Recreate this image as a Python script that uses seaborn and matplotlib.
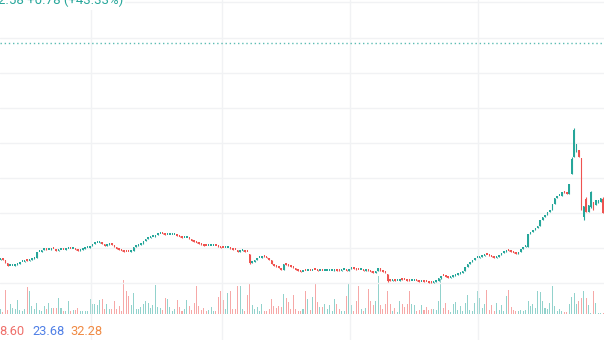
import matplotlib
matplotlib.use("Agg")
import matplotlib.pyplot as plt
import numpy as np
import pandas as pd
import seaborn as sns

# ---- daily bars -------------------------------------------------------
closes = [
    1.42, 1.41, 1.35, 1.29, 1.29, 1.29, 1.31, 1.33, 1.37, 1.37,
    1.39, 1.39, 1.41, 1.43, 1.45, 1.56, 1.57, 1.60, 1.62, 1.61,
    1.61, 1.63, 1.62, 1.59, 1.60, 1.61, 1.60, 1.62, 1.63, 1.62,
    1.63, 1.60, 1.58, 1.61, 1.63, 1.64, 1.65, 1.69, 1.73, 1.75,
    1.75, 1.77, 1.73, 1.69, 1.71, 1.74, 1.71, 1.67, 1.63, 1.61,
    1.58, 1.57, 1.56, 1.56, 1.59, 1.66, 1.69, 1.70, 1.73, 1.79,
    1.82, 1.85, 1.87, 1.87, 1.91, 1.92, 1.93, 1.93, 1.91, 1.91,
    1.91, 1.91, 1.91, 1.89, 1.86, 1.85, 1.85, 1.85, 1.83, 1.79,
    1.76, 1.74, 1.73, 1.71, 1.69, 1.68, 1.68, 1.69, 1.69, 1.68,
    1.67, 1.65, 1.64, 1.64, 1.64, 1.63, 1.61, 1.60, 1.57, 1.59,
    1.60, 1.57, 1.56, 1.34, 1.37, 1.41, 1.44, 1.45, 1.48, 1.47,
    1.45, 1.41, 1.32, 1.29, 1.27, 1.24, 1.21, 1.32, 1.31, 1.29,
    1.27, 1.24, 1.21, 1.19, 1.17, 1.17, 1.18, 1.19, 1.18, 1.19,
    1.20, 1.19, 1.19, 1.18, 1.19, 1.19, 1.19, 1.19, 1.20, 1.19,
    1.19, 1.20, 1.21, 1.18, 1.23, 1.25, 1.23, 1.21, 1.20, 1.21,
    1.19, 1.20, 1.19, 1.17, 1.15, 1.19, 1.24, 1.19, 1.16, 1.14,
    0.99, 0.99, 1.00, 0.99, 0.99, 1.03, 1.01, 1.00, 0.99, 0.99,
    0.99, 0.99, 0.99, 0.97, 0.97, 0.97, 0.96, 0.95, 0.95, 0.97,
    0.99, 1.04, 1.09, 1.08, 1.06, 1.05, 1.07, 1.08, 1.10, 1.12,
    1.14, 1.19, 1.27, 1.32, 1.36, 1.40, 1.45, 1.45, 1.47, 1.48,
    1.51, 1.50, 1.48, 1.47, 1.44, 1.47, 1.51, 1.55, 1.57, 1.60,
    1.59, 1.57, 1.55, 1.53, 1.57, 1.63, 1.67, 1.69, 1.92, 1.96,
    2.01, 2.05, 2.09, 2.21, 2.27, 2.31, 2.36, 2.40, 2.52, 2.65,
    2.68, 2.69, 2.77, 2.75, 2.73, 2.93, 3.43, 4.01, 3.72, 3.47,
    2.43, 2.48, 2.37, 2.50, 2.75, 2.40, 2.60, 2.61, 2.65, 2.35,
]

opens = [
    1.40, 1.42, 1.41, 1.35, 1.29, 1.29, 1.29, 1.31, 1.33, 1.37,
    1.37, 1.40, 1.39, 1.41, 1.43, 1.45, 1.56, 1.57, 1.60, 1.62,
    1.61, 1.61, 1.63, 1.62, 1.59, 1.60, 1.61, 1.60, 1.62, 1.63,
    1.62, 1.63, 1.60, 1.58, 1.61, 1.63, 1.64, 1.65, 1.69, 1.73,
    1.75, 1.75, 1.77, 1.73, 1.69, 1.71, 1.74, 1.71, 1.67, 1.63,
    1.61, 1.58, 1.57, 1.57, 1.56, 1.59, 1.66, 1.69, 1.70, 1.73,
    1.79, 1.82, 1.85, 1.87, 1.87, 1.91, 1.92, 1.94, 1.93, 1.91,
    1.91, 1.91, 1.91, 1.91, 1.89, 1.86, 1.85, 1.85, 1.85, 1.83,
    1.79, 1.76, 1.74, 1.73, 1.71, 1.69, 1.68, 1.68, 1.69, 1.69,
    1.68, 1.67, 1.65, 1.64, 1.64, 1.64, 1.63, 1.61, 1.60, 1.57,
    1.59, 1.60, 1.57, 1.52, 1.34, 1.37, 1.41, 1.44, 1.45, 1.48,
    1.47, 1.45, 1.41, 1.32, 1.29, 1.27, 1.24, 1.21, 1.32, 1.31,
    1.29, 1.27, 1.24, 1.21, 1.19, 1.17, 1.19, 1.18, 1.19, 1.18,
    1.21, 1.20, 1.19, 1.19, 1.18, 1.19, 1.19, 1.19, 1.19, 1.20,
    1.20, 1.19, 1.20, 1.21, 1.18, 1.23, 1.25, 1.23, 1.21, 1.20,
    1.21, 1.19, 1.20, 1.19, 1.17, 1.15, 1.19, 1.24, 1.19, 1.16,
    1.12, 1.00, 0.99, 1.00, 0.99, 0.99, 1.03, 1.01, 1.00, 1.00,
    0.99, 0.99, 1.00, 0.99, 0.97, 0.98, 0.97, 0.96, 0.96, 0.95,
    0.97, 0.99, 1.04, 1.09, 1.08, 1.06, 1.05, 1.07, 1.08, 1.10,
    1.12, 1.14, 1.19, 1.27, 1.32, 1.36, 1.40, 1.45, 1.45, 1.47,
    1.48, 1.51, 1.50, 1.48, 1.47, 1.44, 1.47, 1.51, 1.55, 1.57,
    1.60, 1.59, 1.57, 1.55, 1.53, 1.57, 1.63, 1.67, 1.67, 1.92,
    1.96, 2.01, 2.05, 2.09, 2.21, 2.27, 2.31, 2.36, 2.40, 2.52,
    2.65, 2.68, 2.69, 2.77, 2.75, 2.73, 3.13, 3.47, 3.57, 3.61,
    3.43, 2.27, 2.63, 2.36, 2.45, 2.57, 2.50, 2.55, 2.57, 2.63,
]

# wick extremes where they reach beyond the body
wick_highs = {237: 4.05, 236: 3.46, 240: 3.45, 244: 2.78, 242: 2.66, 249: 2.66}
wick_lows = {241: 2.21, 240: 2.40, 103: 1.32, 160: 0.97, 182: 1.03, 235: 2.72}

volumes = [
    5, 2, 24, 4, 10, 6, 5, 14, 4, 3,
    5, 27, 23, 8, 5, 11, 4, 3, 8, 5,
    11, 6, 6, 6, 16, 6, 3, 3, 13, 3,
    4, 4, 6, 3, 3, 3, 3, 15, 10, 10,
    9, 14, 15, 5, 10, 5, 5, 13, 5, 8,
    3, 34, 23, 18, 9, 21, 5, 5, 7, 10,
    13, 11, 6, 9, 29, 7, 6, 4, 16, 15,
    7, 3, 5, 14, 7, 3, 5, 14, 8, 4,
    11, 28, 8, 4, 6, 3, 4, 7, 3, 3,
    17, 23, 14, 5, 21, 23, 5, 5, 28, 28,
    5, 3, 19, 30, 9, 5, 7, 3, 10, 3,
    3, 5, 15, 8, 6, 8, 7, 20, 16, 12,
    5, 19, 5, 3, 3, 5, 23, 15, 4, 17,
    30, 12, 7, 7, 10, 5, 9, 3, 15, 10,
    5, 3, 3, 18, 30, 9, 3, 13, 28, 5,
    3, 6, 25, 13, 9, 13, 38, 9, 5, 10,
    23, 10, 3, 6, 2, 13, 10, 7, 10, 23,
    10, 9, 3, 4, 9, 4, 7, 4, 5, 5,
    4, 13, 35, 6, 11, 4, 2, 10, 12, 4,
    8, 3, 11, 19, 4, 3, 11, 23, 16, 6,
    10, 24, 4, 9, 3, 11, 4, 9, 3, 18,
    24, 7, 4, 3, 3, 4, 3, 4, 13, 8,
    10, 6, 23, 22, 13, 6, 5, 11, 28, 8,
    3, 5, 3, 2, 2, 10, 17, 21, 10, 13,
    16, 23, 16, 9, 1, 23, 11, 1, 1, 1,
]

header_text = "2.58 +0.78 (+43.33%)"
ma_labels = ["8.60", "23.68", "32.28"]
ma_colors = ["#ef6f6a", "#4f7fe6", "#f08a43"]

UP = "#26a69a"
DOWN = "#ef5350"
GRID = "#f1f2f4"

# ---- frame ------------------------------------------------------------
sns.set_theme(style="white")
plt.rcParams["font.family"] = ["Roboto", "DejaVu Sans"]

df = pd.DataFrame({"open": opens, "close": closes, "volume": volumes})
df["idx"] = np.arange(len(df))
df["dir"] = np.where(df["close"] >= df["open"], "up", "down")
df["high"] = [max(o, c, wick_highs.get(i, -1)) for i, (o, c) in enumerate(zip(opens, closes))]
df["low"] = [min(o, c, wick_lows.get(i, 99)) for i, (o, c) in enumerate(zip(opens, closes))]

fig = plt.figure(figsize=(6.04, 3.40), dpi=100)
ax = fig.add_axes([0, 0, 1, 1])
axv = ax.twinx()
ax.set_zorder(axv.get_zorder() + 1)
ax.patch.set_visible(False)

# volume pane at the bottom
sns.barplot(data=df, x="idx", y="volume", hue="dir", palette={"up": UP, "down": DOWN},
            native_scale=True, dodge=False, width=0.42, errorbar=None, saturation=1,
            alpha=0.5, legend=False, ax=axv, linewidth=0)
axv.set_ylim(-26.5, 313.5)

# grid
for gy in np.arange(0.936, 6.6, 0.702):
    ax.axhline(gy, color=GRID, lw=1.0, zorder=0)
for gx in [37.4, 91.5, 144.4, 197.3]:
    ax.axvline(gx, color=GRID, lw=1.0, zorder=0)

# dotted reference line
ax.axhline(5.746, color=UP, lw=1.0, ls=(0, (1, 2)), alpha=0.75, zorder=1)

# candles
colors = np.where(df["dir"] == "up", UP, DOWN)
ax.vlines(df["idx"], df["low"], df["high"], colors=colors, lw=0.8, zorder=3)
body_low = np.minimum(df["open"], df["close"])
body_h = np.maximum(np.abs(df["close"] - df["open"]), 0.035)
ax.bar(df["idx"], body_h, bottom=body_low, width=0.6, color=colors, linewidth=0, zorder=4)

ax.set_xlim(-0.21, 249.38)
ax.set_ylim(-0.2, 6.6)
for a in (ax, axv):
    a.set_axis_off()

# legends
fig.text(-2 / 604, 1 - 4.5 / 340, header_text, color=UP, fontsize=9.5, va="baseline", ha="left",
         bbox=dict(facecolor="white", edgecolor="none", pad=1.5))
xpos = [-1, 32, 70]
for lab, col, xp in zip(ma_labels, ma_colors, xpos):
    fig.text(xp / 604, 1 - 335 / 340, lab, color=col, fontsize=9.3, va="baseline", ha="left")

fig.savefig("out.png", dpi=100, facecolor="white")
